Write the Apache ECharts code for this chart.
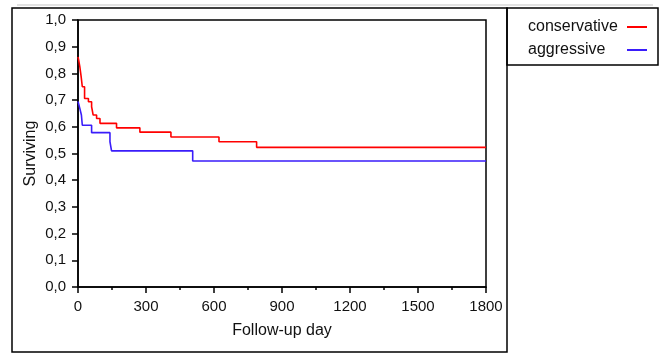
<!DOCTYPE html>
<html>
<head>
<meta charset="utf-8">
<script src="https://cdn.jsdelivr.net/npm/echarts@6/dist/echarts.min.js"></script>
<style>
  html, body { margin: 0; padding: 0; background: #fff; }
  #chart { width: 663px; height: 354px; }
</style>
</head>
<body>
<div id="chart"></div>
<script>
// Kaplan-Meier steps: value holds from that day onward
const conservativeDays = [0, 3, 8, 14, 19, 29, 46, 60, 67, 82, 97, 170, 273, 410, 622, 788, 1800]
const conservativeSurv = [0.862, 0.850, 0.825, 0.787, 0.750, 0.706, 0.694, 0.675, 0.644, 0.631, 0.613, 0.596, 0.580, 0.562, 0.544, 0.523, 0.523]
const aggressiveDays = [0, 8, 15, 19, 60, 141, 148, 506, 1800]
const aggressiveSurv = [0.695, 0.669, 0.644, 0.606, 0.578, 0.544, 0.510, 0.472, 0.472]

const xTicks = [0, 300, 600, 900, 1200, 1500, 1800]
const yTicks = [0, 0.1, 0.2, 0.3, 0.4, 0.5, 0.6, 0.7, 0.8, 0.9, 1.0]

const font = 'Liberation Sans'
const toPairs = (days, vals) => days.map((d, i) => [d, vals[i]])

const chart = echarts.init(document.getElementById('chart'))
chart.setOption({
  animation: false,
  backgroundColor: '#fff',
  textStyle: { fontFamily: font },
  grid: { left: 78, top: 20, width: 408, height: 267, show: true, borderColor: '#000', borderWidth: 1.5, containLabel: false },
  xAxis: {
    type: 'value',
    min: xTicks[0],
    max: xTicks[xTicks.length - 1],
    interval: 300,
    name: 'Follow-up day',
    nameLocation: 'middle',
    nameGap: 36,
    nameMoveOverlap: false,
    nameTextStyle: { color: '#111', fontSize: 16, fontFamily: font },
    axisLine: { show: true, lineStyle: { color: '#000', width: 1.5 } },
    axisTick: { show: true, length: 6, lineStyle: { color: '#000', width: 1.5 } },
    minorTick: { show: true, splitNumber: 2, length: 3, lineStyle: { color: '#000', width: 1.5 } },
    splitLine: { show: false },
    axisLabel: { color: '#111', fontSize: 15, fontFamily: font, margin: 12, formatter: v => String(v) }
  },
  yAxis: {
    type: 'value',
    min: yTicks[0],
    max: yTicks[yTicks.length - 1],
    interval: 0.1,
    name: 'Surviving',
    nameLocation: 'middle',
    nameGap: 39,
    nameMoveOverlap: false,
    nameRotate: 90,
    nameTextStyle: { color: '#111', fontSize: 16, fontFamily: font },
    axisLine: { show: true, lineStyle: { color: '#000', width: 1.5 } },
    axisTick: { show: true, length: 6, lineStyle: { color: '#000', width: 1.5 } },
    splitLine: { show: false },
    axisLabel: {
      color: '#111', fontSize: 15, fontFamily: font, margin: 12,
      formatter: v => v.toFixed(1).replace('.', ',')
    }
  },
  legend: {
    orient: 'vertical',
    left: 528,
    top: 19,
    padding: 0,
    align: 'right',
    icon: 'rect',
    itemWidth: 20,
    itemHeight: 2,
    itemGap: 7,
    formatter: name => '{t|' + name + '}',
    textStyle: {
      color: '#111', fontSize: 16, fontFamily: font, lineHeight: 16,
      rich: { t: { width: 94, align: 'left', fontSize: 16, fontFamily: font, color: '#111', lineHeight: 16 } }
    },
    data: ['conservative', 'aggressive']
  },
  graphic: [
    { type: 'line', shape: { x1: 17, y1: 5, x2: 653, y2: 5 }, style: { stroke: '#d8d8d8', lineWidth: 1.5 }, silent: true },
    { type: 'rect', shape: { x: 12, y: 8, width: 495, height: 344 }, style: { fill: 'none', stroke: '#000', lineWidth: 1.5 }, silent: true },
    { type: 'rect', shape: { x: 507, y: 8, width: 151, height: 57 }, style: { fill: 'none', stroke: '#000', lineWidth: 1.5 }, silent: true }
  ],
  series: [
    {
      name: 'conservative',
      type: 'line',
      step: 'end',
      showSymbol: false,
      color: '#ff0000',
      lineStyle: { width: 1.6 },
      data: toPairs(conservativeDays, conservativeSurv)
    },
    {
      name: 'aggressive',
      type: 'line',
      step: 'end',
      showSymbol: false,
      color: '#3a1dfa',
      lineStyle: { width: 1.6 },
      data: toPairs(aggressiveDays, aggressiveSurv)
    }
  ]
})
</script>
</body>
</html>
